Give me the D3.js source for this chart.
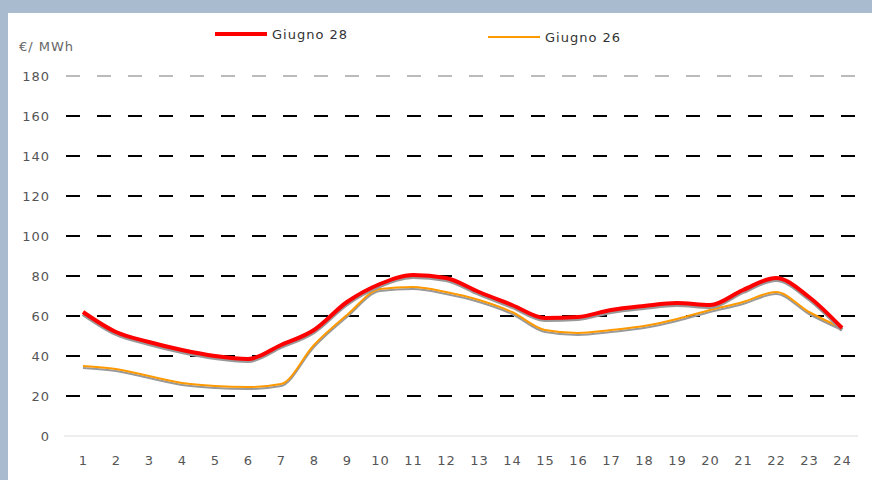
<!DOCTYPE html>
<html>
<head>
<meta charset="utf-8">
<script src="https://cdn.jsdelivr.net/npm/d3@7"></script>
<style>
  body { margin: 0; background: #a9bccf; }
  svg { display: block; }
  text { font-family: "DejaVu Sans", Verdana, sans-serif; letter-spacing: 1px; }
</style>
</head>
<body>
<div id="chart"></div>
<script>
// Hours on the x axis.
var hours = d3.range(1, 25).map(String);
// Price series (€/MWh).
var giugno28 = [62, 52, 47, 43, 40, 38.5, 45.5, 53, 67, 76, 80.5, 79,
                72, 65.5, 59, 59.5, 63, 65, 66.5, 65.5, 73, 79, 69.5, 54];
var giugno26 = [35, 33.5, 30, 26.5, 25, 24.5, 26, 45.5, 60.5, 73.5, 74.5, 72,
                68, 62, 53, 51.5, 53, 55, 58.5, 63, 67, 72, 62, 54];
var yTicks = [0, 20, 40, 60, 80, 100, 120, 140, 160, 180];
var legendNames = ["Giugno 28", "Giugno 26"];

var width = 872, height = 480;
var svg = d3.select("#chart").append("svg")
    .attr("width", width)
    .attr("height", height);

// White panel over the blue frame.
svg.append("rect")
    .attr("x", 8).attr("y", 13)
    .attr("width", width - 8).attr("height", height - 13)
    .attr("fill", "#fff");

var x = d3.scalePoint().domain(hours).range([83, 842]);
var y = d3.scaleLinear().domain([0, 180]).range([436, 76]);

// Horizontal grid lines.
svg.append("g").selectAll("line")
    .data(yTicks.filter(d => d > 0))
    .enter().append("line")
    .attr("x1", 66).attr("x2", 858)
    .attr("y1", d => y(d)).attr("y2", d => y(d))
    .attr("stroke", d => d === 180 ? "#bbb" : "#000")
    .attr("stroke-width", 2)
    .attr("stroke-dasharray", "14 17");

// Zero line.
svg.append("line")
    .attr("x1", 64).attr("x2", 858)
    .attr("y1", y(0)).attr("y2", y(0))
    .attr("stroke", "#eee").attr("stroke-width", 2);

// Y axis labels.
var yAxis = d3.axisLeft(y).tickValues(yTicks).tickSize(0).tickPadding(0);
var yg = svg.append("g").attr("transform", "translate(50,0)").call(yAxis);
yg.select(".domain").remove();
yg.selectAll("text").attr("font-size", 13).attr("fill", "#555");

// X axis labels.
var xAxis = d3.axisBottom(x).tickSize(0).tickPadding(0);
var xg = svg.append("g").attr("transform", "translate(0,456)").call(xAxis);
xg.select(".domain").remove();
xg.selectAll("text").attr("font-size", 13).attr("fill", "#555");

// Y axis title.
svg.append("text")
    .attr("x", 19).attr("y", 51)
    .attr("font-size", 13).attr("fill", "#666")
    .text("€/ MWh");

var line = d3.line()
    .x((d, i) => x(hours[i]))
    .y(d => y(d))
    .curve(d3.curveMonotoneX);

// Series: gray shadow underneath, coloured line on top.
function drawSeries(data, color, w) {
  svg.append("path")
      .datum(data)
      .attr("d", line)
      .attr("fill", "none")
      .attr("stroke", "#999")
      .attr("stroke-width", w)
      .attr("transform", "translate(0,2)");
  svg.append("path")
      .datum(data)
      .attr("d", line)
      .attr("fill", "none")
      .attr("stroke", color)
      .attr("stroke-width", w);
}
drawSeries(giugno26, "#ff9900", 2);
drawSeries(giugno28, "#ff0000", 4);

// Legend.
var legend = [
  { name: legendNames[0], color: "#ff0000", w: 4, x: 215, y: 34 },
  { name: legendNames[1], color: "#ff9900", w: 2, x: 488, y: 37 }
];
var lg = svg.append("g").selectAll("g").data(legend).enter().append("g");
lg.append("line")
    .attr("x1", d => d.x).attr("x2", d => d.x + 52)
    .attr("y1", d => d.y).attr("y2", d => d.y)
    .attr("stroke", d => d.color)
    .attr("stroke-width", d => d.w);
lg.append("text")
    .attr("x", d => d.x + 57).attr("y", d => d.y + 5)
    .attr("font-size", 13).attr("fill", "#333")
    .text(d => d.name);
</script>
</body>
</html>
